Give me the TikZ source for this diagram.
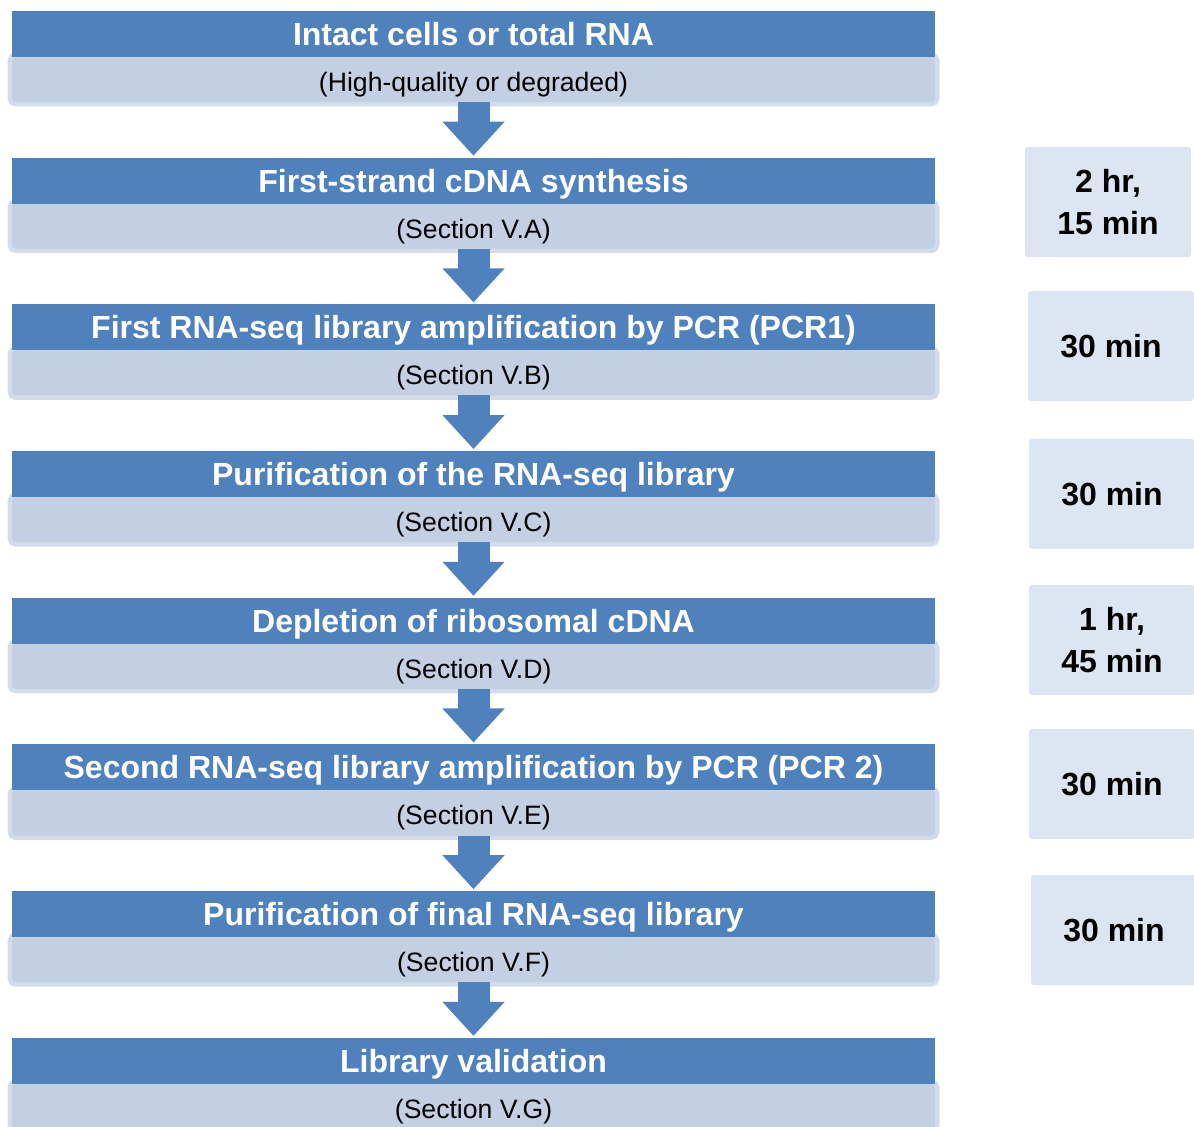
\documentclass[tikz,border=0pt]{standalone}
\usepackage{fontspec}
\setmainfont{Liberation Sans}
\usetikzlibrary{positioning,arrows.meta}

\definecolor{headblue}{HTML}{4F81BD}
\definecolor{subfill}{HTML}{C3CFE3}
\definecolor{subedge}{HTML}{D3DCEB}
\definecolor{timefill}{HTML}{DCE6F2}

\tikzset{
  head/.style={fill=headblue, text=white, minimum width=461.5pt, minimum height=23pt,
    inner sep=0pt, outer sep=0pt, text height=11.5pt, text depth=0pt,
    font=\fontsize{16}{19}\selectfont\bfseries},
  sub/.style={fill=subfill, preaction={draw=subedge, line width=4.5pt}, rounded corners=2pt,
    minimum width=461.5pt, minimum height=22.5pt, inner sep=0pt, outer sep=0pt,
    text height=12pt, text depth=0pt, font=\fontsize{13.3}{16}\selectfont},
  tbox/.style={fill=timefill, rounded corners=1.5pt, minimum width=83pt, minimum height=55pt,
    inner sep=0pt, align=center, font=\fontsize{16}{21}\selectfont\bfseries},
  flow/.style={draw=headblue, line width=16pt, -{Triangle[length=17pt,width=30pt]}, shorten >=1pt}
}

\begin{document}
\begin{tikzpicture}[x=0.5pt,y=-0.5pt]
        \clip (0,0) rectangle (1194,1127);
        \useasboundingbox (0,0) rectangle (1194,1127);
        % steps
        \node[sub] (s1) at (473.5,79.5) {(High-quality or degraded)};
        \node[head, above=0pt of s1] (h1) {Intact cells or total RNA};
        \node[sub] (s2) at (473.5,226.2) {(Section V.A)};
        \node[head, above=0pt of s2] (h2) {First-strand cDNA synthesis};
        \node[sub] (s3) at (473.5,372.9) {(Section V.B)};
        \node[head, above=0pt of s3] (h3) {First RNA-seq library amplification by PCR (PCR1)};
        \node[sub] (s4) at (473.5,519.6) {(Section V.C)};
        \node[head, above=0pt of s4] (h4) {Purification of the RNA-seq library};
        \node[sub] (s5) at (473.5,666.3) {(Section V.D)};
        \node[head, above=0pt of s5] (h5) {Depletion of ribosomal cDNA};
        \node[sub] (s6) at (473.5,813) {(Section V.E)};
        \node[head, above=0pt of s6] (h6) {Second RNA-seq library amplification by PCR (PCR 2)};
        \node[sub] (s7) at (473.5,959.7) {(Section V.F)};
        \node[head, above=0pt of s7] (h7) {Purification of final RNA-seq library};
        \node[sub] (s8) at (473.5,1106.4) {(Section V.G)};
        \node[head, above=0pt of s8] (h8) {Library validation};
        % times
        \node[tbox] (t2) at (1108,202) {2 hr,\\15 min};
        \node[tbox] (t3) at (1111,346) {30 min};
        \node[tbox] (t4) at (1112,494) {30 min};
        \node[tbox] (t5) at (1112,640) {1 hr,\\45 min};
        \node[tbox] (t6) at (1112,784) {30 min};
        \node[tbox] (t7) at (1114,930) {30 min};
        % arrows
        \draw[flow] (s1.south) -- (h2.north);
        \draw[flow] (s2.south) -- (h3.north);
        \draw[flow] (s3.south) -- (h4.north);
        \draw[flow] (s4.south) -- (h5.north);
        \draw[flow] (s5.south) -- (h6.north);
        \draw[flow] (s6.south) -- (h7.north);
        \draw[flow] (s7.south) -- (h8.north);
    \end{tikzpicture}
\end{document}
